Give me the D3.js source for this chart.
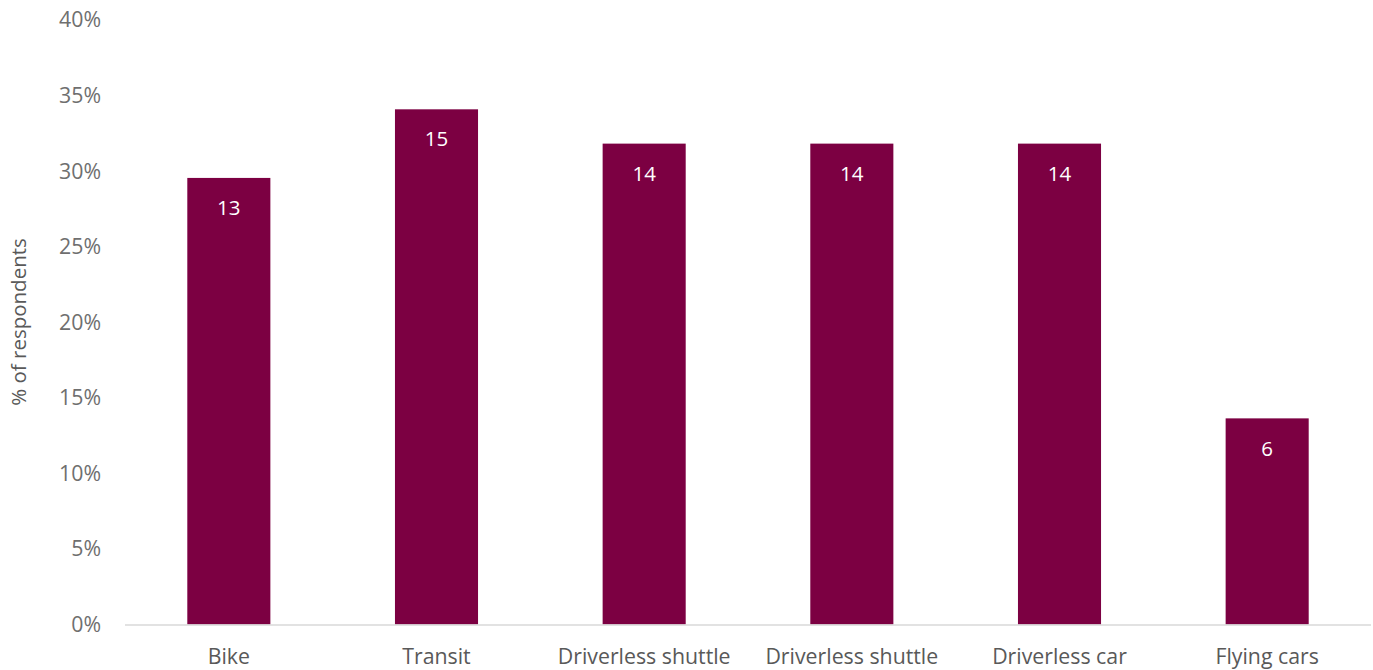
<!DOCTYPE html>
<html><head><meta charset="utf-8">
<script src="https://cdn.jsdelivr.net/npm/d3@7"></script>
<style>body{margin:0;background:#fff}svg{display:block}</style>
</head><body>
<svg id="c" width="1373" height="670"></svg>
<script>
const categories = ["Bike","Transit","Driverless shuttle","Driverless shuttle","Driverless car","Flying cars"];
const counts = [13,15,14,14,14,6];
const shares = [0.2955,0.3409,0.3182,0.3182,0.3182,0.1364];
const yTicks = [0,0.05,0.10,0.15,0.20,0.25,0.30,0.35,0.40];

const svg = d3.select("#c");
const font = "'Open Sans', 'Liberation Sans', sans-serif";
const fs = 21.3;
const x = d3.scaleBand().domain(d3.range(categories.length)).range([125,1371]).paddingInner(0.6).paddingOuter(0.3);
const y = d3.scaleLinear().domain([0,0.4]).range([624.5,20]);

// y tick labels
svg.append("g").selectAll("text").data(yTicks).join("text")
  .attr("x",101).attr("y",d=>y(d)).attr("dy","0.35em")
  .attr("text-anchor","end").attr("font-family",font).attr("font-size",fs)
  .attr("fill","#6f6f6f").text(d=>d3.format(".0%")(d));

// bars
svg.append("g").selectAll("rect").data(shares).join("rect")
  .attr("x",(d,i)=>x(i)).attr("width",x.bandwidth())
  .attr("y",d=>y(d)).attr("height",d=>y(0)-y(d))
  .attr("fill","#7C0042");

// axis line
svg.append("line").attr("x1",125).attr("x2",1371).attr("y1",y(0)+0.5).attr("y2",y(0)+0.5)
  .attr("stroke","#d9d9d9").attr("stroke-width",1.5);

// value labels
svg.append("g").selectAll("text").data(counts).join("text")
  .attr("x",(d,i)=>x(i)+x.bandwidth()/2).attr("y",(d,i)=>y(shares[i])+30)
  .attr("dy","0.35em").attr("text-anchor","middle")
  .attr("font-family",font).attr("font-size",20.5).attr("fill","#fff").text(d=>d);

// category labels
svg.append("g").selectAll("text").data(categories).join("text")
  .attr("x",(d,i)=>x(i)+x.bandwidth()/2).attr("y",657).attr("dy","0.35em")
  .attr("text-anchor","middle").attr("font-family",font).attr("font-size",fs)
  .attr("fill","#595959").text(d=>d);

// y title
svg.append("text").attr("transform","translate(19,322) rotate(-90)")
  .attr("dy","0.35em").attr("text-anchor","middle").attr("font-family",font)
  .attr("font-size",20.5).attr("fill","#595959").text("% of respondents");
</script>
</body></html>
